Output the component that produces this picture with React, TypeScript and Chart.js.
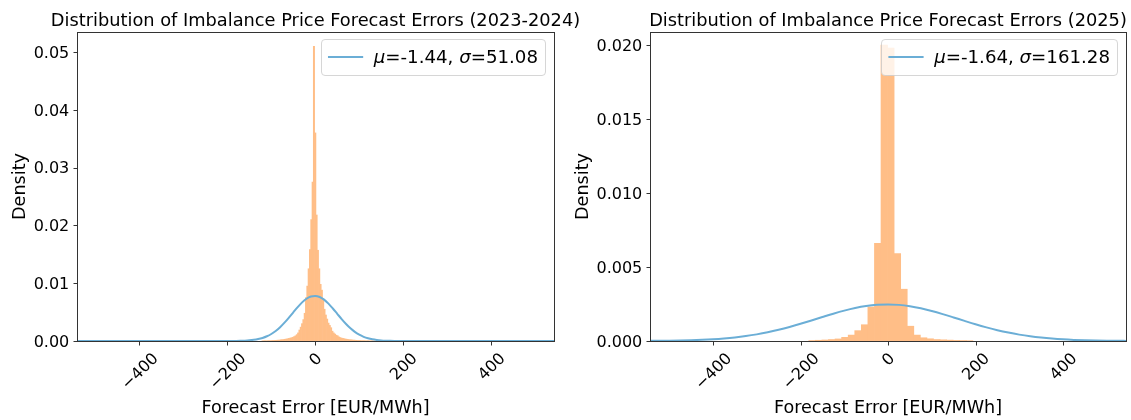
import React, { useEffect, useRef } from "react";
import { Chart, registerables } from "chart.js";

Chart.register(...registerables);

const W = 1131;
const H = 420;
const FONT = '"DejaVu Sans", "Liberation Sans", sans-serif';

// ---------- shared axis ticks ----------
const X_TICKS = [-400, -200, 0, 200, 400];
const X_TICK_LABELS = ["\u2212400", "\u2212200", "0", "200", "400"];
const X_LABEL = "Forecast Error [EUR/MWh]";
const Y_LABEL = "Density";

// ---------- left panel (2023-2024) ----------
const LEFT_TITLE = "Distribution of Imbalance Price Forecast Errors (2023-2024)";
const LEFT_MU = "-1.44";
const LEFT_SIGMA = "51.08";
const LEFT_Y_TICKS = [0, 0.01, 0.02, 0.03, 0.04, 0.05];
const LEFT_Y_TICK_LABELS = ["0.00", "0.01", "0.02", "0.03", "0.04", "0.05"];
const LEFT_BIN_CENTERS = [
  -120, -117, -114, -111, -108, -105, -102, -99, -96, -93, -90, -87, -84, -81, -78, -75, -72, -69, -66, -63,
  -60, -57, -54, -51, -48, -45, -42, -39, -36, -33, -30, -27, -24, -21, -18, -15, -12, -9, -6, -3,
  0, 3, 6, 9, 12, 15, 18, 21, 24, 27, 30, 33, 36, 39, 42, 45, 48, 51, 54, 57,
  60, 63, 66, 69, 72, 75, 78, 81, 84, 87, 90, 93, 96, 99, 102, 105, 108, 111, 114, 117,
  120, 123, 126, 129, 132, 135,
];
const LEFT_DENSITY = [
  0.00003, 0.00003, 0.00004, 0.00004, 0.00005, 0.00005, 0.00006, 0.00007, 0.00008, 0.0001,
  0.00011, 0.00013, 0.00015, 0.00017, 0.0002, 0.00023, 0.00026, 0.0003, 0.00034, 0.00039,
  0.00045, 0.0005, 0.00057, 0.00065, 0.00076, 0.0009, 0.0011, 0.0014, 0.0019, 0.0024,
  0.003, 0.0037, 0.0048, 0.0075, 0.0095, 0.0125, 0.0158, 0.021, 0.0275, 0.051,
  0.036, 0.0218, 0.0157, 0.0125, 0.0098, 0.0088, 0.0073, 0.0055, 0.0045, 0.0038,
  0.0031, 0.0027, 0.0023, 0.0017, 0.0014, 0.0012, 0.001, 0.0009, 0.0007, 0.0006,
  0.0005, 0.00045, 0.0004, 0.00034, 0.0003, 0.00026, 0.00023, 0.0002, 0.00018, 0.00016,
  0.00014, 0.00012, 0.0001, 0.00009, 0.00008, 0.00007, 0.00006, 0.00005, 0.00005, 0.00004,
  0.00004, 0.00003, 0.00003, 0.00003, 0.00002, 0.00002,
];
const LEFT_CURVE_X = [
  -560, -400, -300, -250, -200, -190, -180, -170, -160, -150, -140, -130, -120, -110, -100, -90, -80, -70, -60, -50,
  -40, -30, -20, -10, 0, 10, 20, 30, 40, 50, 60, 70, 80, 90, 100, 110, 120, 130, 140, 150,
  160, 170, 180, 190, 200, 250, 300, 400, 560,
];
const LEFT_CURVE_Y = [
  0, 0, 0, 0.0000001, 0.0000041, 0.0000086, 0.0000173, 0.0000337, 0.0000632, 0.000114,
  0.000197, 0.000329, 0.000528, 0.000816, 0.001214, 0.001738, 0.002394, 0.003172, 0.004048, 0.00497,
  0.005874, 0.00668, 0.007311, 0.007701, 0.007807, 0.007616, 0.007152, 0.006463, 0.00562, 0.004703,
  0.003789, 0.002937, 0.002191, 0.001573, 0.001087, 0.000723, 0.000463, 0.000285, 0.000169, 0.0000964,
  0.0000529, 0.000028, 0.0000142, 0.000007, 0.0000033, 0.0000001, 0, 0, 0,
];

// ---------- right panel (2025) ----------
const RIGHT_TITLE = "Distribution of Imbalance Price Forecast Errors (2025)";
const RIGHT_MU = "-1.64";
const RIGHT_SIGMA = "161.28";
const RIGHT_Y_TICKS = [0, 0.005, 0.01, 0.015, 0.02];
const RIGHT_Y_TICK_LABELS = ["0.000", "0.005", "0.010", "0.015", "0.020"];
const RIGHT_BIN_CENTERS = [
  -173.5, -158.5, -143.5, -128.5, -113.5, -98.5, -83.5, -68.5, -53.5, -38.5, -23.5, -8.5,
  6.5, 21.5, 36.5, 51.5, 66.5, 81.5, 96.5, 111.5, 126.5, 141.5, 156.5, 171.5, 186.5,
];
const RIGHT_DENSITY = [
  0.00003, 0.00005, 0.00007, 0.0001, 0.00014, 0.00025, 0.0004, 0.0007, 0.0011, 0.0023, 0.0066, 0.02,
  0.0198, 0.0059, 0.0035, 0.001, 0.0004, 0.00022, 0.00015, 0.0001, 0.00008, 0.00006, 0.00004, 0.00003, 0.00002,
];
const RIGHT_CURVE_X = [
  -550, -525, -500, -475, -450, -425, -400, -375, -350, -325, -300, -275, -250, -225, -200, -175, -150, -125, -100, -75,
  -50, -25, 0, 25, 50, 75, 100, 125, 150, 175, 200, 225, 250, 275, 300, 325, 350, 375, 400, 425,
  450, 475, 500, 525, 550,
];
const RIGHT_CURVE_Y = [
  0.0000076, 0.0000128, 0.0000209, 0.0000333, 0.0000519, 0.0000789, 0.000117, 0.00017, 0.00024, 0.000332,
  0.000447, 0.000588, 0.000756, 0.000948, 0.001161, 0.001388, 0.00162, 0.001847, 0.002054, 0.002231,
  0.002365, 0.002448, 0.002474, 0.002441, 0.00235, 0.00221, 0.002028, 0.001818, 0.00159, 0.001358,
  0.001132, 0.000922, 0.000732, 0.000568, 0.00043, 0.000318, 0.00023, 0.000162, 0.000111, 0.0000748,
  0.000049, 0.0000314, 0.0000196, 0.000012, 0.0000071,
];

// ---------- styling ----------
const BAR_COLOR = "rgb(255,190,135)";
const CURVE_COLOR = "#6baed6";
const TICK_FS = 16;
const LABEL_FS = 17.6;
const TITLE_FS = 17.8;
const LEGEND_FS = 18.2;

type PanelCfg = {
  title: string;
  mu: string;
  sigma: string;
  centers: number[];
  density: number[];
  curveX: number[];
  curveY: number[];
  yTicks: number[];
  yTickLabels: string[];
  area: { left: number; right: number; top: number; bottom: number };
  xMin: number;
  xMax: number;
  yMax: number;
};

const LEFT: PanelCfg = {
  title: LEFT_TITLE,
  mu: LEFT_MU,
  sigma: LEFT_SIGMA,
  centers: LEFT_BIN_CENTERS,
  density: LEFT_DENSITY,
  curveX: LEFT_CURVE_X,
  curveY: LEFT_CURVE_Y,
  yTicks: LEFT_Y_TICKS,
  yTickLabels: LEFT_Y_TICK_LABELS,
  area: { left: 77, right: 554, top: 32, bottom: 341 },
  xMin: -542,
  xMax: 543,
  yMax: 0.05346,
};

const RIGHT: PanelCfg = {
  title: RIGHT_TITLE,
  mu: RIGHT_MU,
  sigma: RIGHT_SIGMA,
  centers: RIGHT_BIN_CENTERS,
  density: RIGHT_DENSITY,
  curveX: RIGHT_CURVE_X,
  curveY: RIGHT_CURVE_Y,
  yTicks: RIGHT_Y_TICKS,
  yTickLabels: RIGHT_Y_TICK_LABELS,
  area: { left: 650, right: 1126, top: 32, bottom: 341 },
  xMin: -544,
  xMax: 544,
  yMax: 0.02088,
};

function makeDecor(p: PanelCfg) {
  return {
    id: "decor",
    afterDatasetsDraw(chart: any) {
      const ctx: CanvasRenderingContext2D = chart.ctx;
      const a = chart.chartArea;
      const fs = LABEL_FS;
      const tfs = LEGEND_FS;
      const parts = [
        { t: "\u03bc", it: true },
        { t: "=" + p.mu + ", ", it: false },
        { t: "\u03c3", it: true },
        { t: "=" + p.sigma, it: false },
      ];
      ctx.save();
      let textW = 0;
      const widths: number[] = [];
      for (const part of parts) {
        ctx.font = `${part.it ? "italic " : ""}${tfs}px ${FONT}`;
        const w = ctx.measureText(part.t).width;
        widths.push(w);
        textW += w;
      }
      const pad = 7;
      const handle = 2 * fs;
      const gap = 0.6 * fs;
      const boxW = pad + handle + gap + textW + pad;
      const boxH = 2 * pad + 1.25 * fs;
      const right = a.right - 9;
      const top = a.top + 0.4 * fs;
      const left = right - boxW;
      const r = 0.2 * fs;
      ctx.beginPath();
      const x0 = Math.round(left) + 0.5;
      const y0 = Math.round(top) + 0.5;
      const bw = Math.round(boxW);
      const bh = Math.round(boxH);
      if ((ctx as any).roundRect) {
        (ctx as any).roundRect(x0, y0, bw, bh, r);
      } else {
        ctx.rect(x0, y0, bw, bh);
      }
      ctx.fillStyle = "rgba(255,255,255,0.8)";
      ctx.fill();
      ctx.strokeStyle = "rgba(204,204,204,0.8)";
      ctx.lineWidth = 1;
      ctx.stroke();
      const cy = top + boxH / 2;
      ctx.beginPath();
      ctx.moveTo(left + pad, cy);
      ctx.lineTo(left + pad + handle, cy);
      ctx.strokeStyle = CURVE_COLOR;
      ctx.lineWidth = 2;
      ctx.stroke();
      let tx = left + pad + handle + gap;
      ctx.fillStyle = "#000";
      ctx.textAlign = "left";
      ctx.textBaseline = "alphabetic";
      parts.forEach((part, i) => {
        ctx.font = `${part.it ? "italic " : ""}${tfs}px ${FONT}`;
        ctx.fillText(part.t, tx, cy + 0.35 * tfs);
        tx += widths[i];
      });
      ctx.restore();
    },
    afterDraw(chart: any) {
      const ctx: CanvasRenderingContext2D = chart.ctx;
      const a = chart.chartArea;
      const xs = chart.scales.x;
      const ys = chart.scales.y;
      ctx.save();
      // frame
      ctx.strokeStyle = "#333";
      ctx.lineWidth = 1;
      const L = Math.round(a.left) + 0.5;
      const R = Math.round(a.right) + 0.5;
      const T = Math.round(a.top) + 0.5;
      const B = Math.round(a.bottom) + 0.5;
      ctx.strokeRect(L, T, R - L, B - T);
      // x ticks
      ctx.fillStyle = "#000";
      ctx.font = `${TICK_FS}px ${FONT}`;
      X_TICKS.forEach((v, i) => {
        const px = Math.round(xs.getPixelForValue(v)) + 0.5;
        ctx.beginPath();
        ctx.moveTo(px, B);
        ctx.lineTo(px, B + 4);
        ctx.stroke();
        const label = X_TICK_LABELS[i];
        const w = ctx.measureText(label).width;
        const h = 1.164 * TICK_FS;
        const box = (w + h) * Math.SQRT1_2;
        const cx = xs.getPixelForValue(v);
        const cyy = a.bottom + 7.7 + box / 2;
        ctx.save();
        ctx.translate(cx, cyy);
        ctx.rotate(-Math.PI / 4);
        ctx.textAlign = "center";
        ctx.textBaseline = "alphabetic";
        ctx.fillText(label, 0, 0.346 * TICK_FS);
        ctx.restore();
      });
      // y ticks
      let maxW = 0;
      p.yTicks.forEach((v, i) => {
        const py = Math.round(ys.getPixelForValue(v)) + 0.5;
        ctx.beginPath();
        ctx.moveTo(L, py);
        ctx.lineTo(L - 4, py);
        ctx.stroke();
        const label = p.yTickLabels[i];
        maxW = Math.max(maxW, ctx.measureText(label).width);
        ctx.textAlign = "right";
        ctx.textBaseline = "alphabetic";
        ctx.fillText(label, a.left - 7.7, ys.getPixelForValue(v) + 0.36 * TICK_FS);
      });
      // axis labels
      ctx.font = `${LABEL_FS}px ${FONT}`;
      ctx.textAlign = "center";
      ctx.textBaseline = "alphabetic";
      const midX = (a.left + a.right) / 2;
      ctx.fillText(X_LABEL, midX, 412.5);
      const yLabX = a.left - 7.7 - maxW - 4.4 - (1.164 * LABEL_FS) / 2;
      const midY = (a.top + a.bottom) / 2;
      ctx.save();
      ctx.translate(yLabX, midY);
      ctx.rotate(-Math.PI / 2);
      ctx.fillText(Y_LABEL, 0, 0.346 * LABEL_FS);
      ctx.restore();
      // title
      ctx.font = `${TITLE_FS}px ${FONT}`;
      ctx.fillText(p.title, midX, a.top - 6.4);
      ctx.restore();
    },
  };
}

function Panel({ cfg }: { cfg: PanelCfg }) {
  const ref = useRef<HTMLCanvasElement>(null);
  useEffect(() => {
    const canvas = ref.current;
    if (!canvas) return;
    const hist = cfg.centers.map((c, i) => ({ x: c, y: cfg.density[i] }));
    const curve = cfg.curveX.map((c, i) => ({ x: c, y: cfg.curveY[i] }));
    const chart = new Chart(canvas, {
      type: "bar",
      data: {
        datasets: [
          {
            type: "line",
            data: curve,
            borderColor: CURVE_COLOR,
            borderWidth: 2,
            pointRadius: 0,
            fill: false,
            cubicInterpolationMode: "monotone",
            order: 0,
          } as any,
          {
            type: "bar",
            data: hist,
            backgroundColor: BAR_COLOR,
            borderWidth: 0,
            barPercentage: 1,
            categoryPercentage: 1,
            order: 1,
          } as any,
        ],
      },
      options: {
        animation: false,
        responsive: false,
        devicePixelRatio: 1,
        layout: {
          padding: {
            left: cfg.area.left,
            right: W - cfg.area.right,
            top: cfg.area.top,
            bottom: H - cfg.area.bottom,
          },
        },
        scales: {
          x: { type: "linear", min: cfg.xMin, max: cfg.xMax, display: false, offset: false },
          y: { type: "linear", min: 0, max: cfg.yMax, display: false },
        },
        plugins: {
          legend: { display: false },
          title: { display: false },
          tooltip: { enabled: false },
        },
      },
      plugins: [makeDecor(cfg)],
    } as any);
    return () => chart.destroy();
  }, [cfg]);
  return (
    <canvas
      ref={ref}
      width={W}
      height={H}
      style={{ position: "absolute", left: 0, top: 0, width: W, height: H }}
    />
  );
}

export default function App() {
  return (
    <div style={{ position: "absolute", left: 0, top: 0, width: W, height: H, background: "#fff" }}>
      <Panel cfg={LEFT} />
      <Panel cfg={RIGHT} />
    </div>
  );
}
